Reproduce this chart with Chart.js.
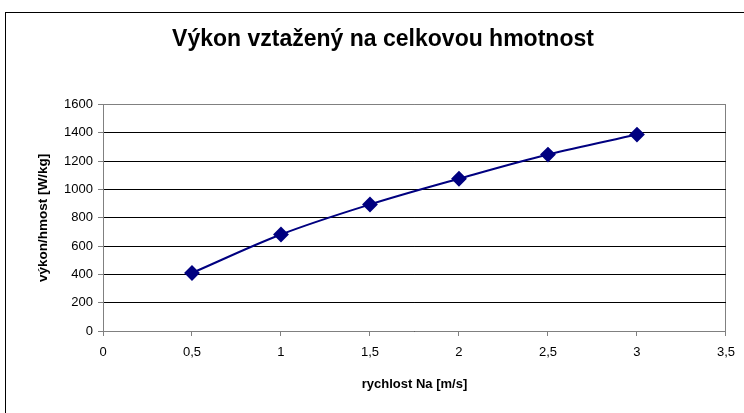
<!DOCTYPE html>
<html>
<head>
<meta charset="utf-8">
<script src="https://cdn.jsdelivr.net/npm/chart.js@4/dist/chart.umd.min.js"></script>
<style>
  body { margin: 0; background: #fff; }
  #wrap { position: relative; width: 744px; height: 413px; overflow: hidden; }
  #frame { position: absolute; left: 5px; top: 12px; width: 760px; height: 420px; border: 1px solid #000; box-sizing: border-box; }
  canvas { position: absolute; left: 0; top: 0; }
</style>
</head>
<body>
<div id="wrap">
  <div id="frame"></div>
  <canvas id="c" width="744" height="413"></canvas>
</div>
<script>
// rychlost Na [m/s] vs. výkon/hmotnost [W/kg]
var speeds = [0.5, 1, 1.5, 2, 2.5, 3];
var powerPerMass = [410, 682, 894, 1076, 1247, 1388];
var titleText = 'Výkon vztažený na celkovou hmotnost';
var xTitle = 'rychlost Na [m/s]';
var yTitle = 'výkon/hmost [W/kg]';

var points = speeds.map(function (s, i) { return { x: s, y: powerPerMass[i] }; });
var fontFam = '"Liberation Sans", Arial, sans-serif';

new Chart(document.getElementById('c'), {
  type: 'line',
  data: {
    datasets: [{
      data: points,
      borderColor: '#000080',
      backgroundColor: '#000080',
      borderWidth: 2,
      tension: 0.35,
      pointStyle: 'rectRot',
      pointRadius: 6.5,
      pointHoverRadius: 6.5
    }]
  },
  options: {
    responsive: false,
    animation: false,
    layout: { padding: { left: 38, right: 16, top: 0, bottom: 0 } },
    plugins: {
      legend: { display: false },
      tooltip: { enabled: false },
      title: {
        display: true,
        text: titleText,
        color: '#000',
        font: { family: fontFam, size: 23, weight: 'bold' },
        padding: { top: 26, bottom: 51 }
      }
    },
    scales: {
      x: {
        type: 'linear',
        min: 0,
        max: 3.5,
        afterFit: function (s) { s.height = 82; },
        ticks: {
          stepSize: 0.5,
          color: '#000',
          padding: 9,
          maxRotation: 0,
          font: { family: fontFam, size: 13 },
          callback: function (v) { return String(v).replace('.', ','); }
        },
        grid: {
          drawOnChartArea: true,
          color: function (ctx) { return ctx.tick && ctx.tick.value === 3.5 ? '#808080' : 'rgba(0,0,0,0)'; },
          tickColor: '#808080',
          tickLength: 5
        },
        border: { color: '#808080', width: 1 },
        title: {
          display: true,
          text: xTitle,
          color: '#000',
          font: { family: fontFam, size: 13, weight: 'bold' },
          padding: { top: 0, bottom: 21 }
        }
      },
      y: {
        min: 0,
        max: 1600,
        afterFit: function (s) { s.width = 65; },
        ticks: {
          stepSize: 200,
          color: '#000',
          padding: 5,
          font: { family: fontFam, size: 13 },
          callback: function (v) { return String(v); }
        },
        grid: {
          color: function (ctx) { return ctx.tick && ctx.tick.value === 1600 ? '#808080' : '#000'; },
          tickColor: '#808080',
          tickLength: 5
        },
        border: { color: '#808080', width: 1 },
        title: {
          display: true,
          text: yTitle,
          color: '#000',
          font: { family: fontFam, size: 13.5, weight: 'bold' },
          padding: { top: -3, bottom: 0 }
        }
      }
    }
  }
});
</script>
</body>
</html>
